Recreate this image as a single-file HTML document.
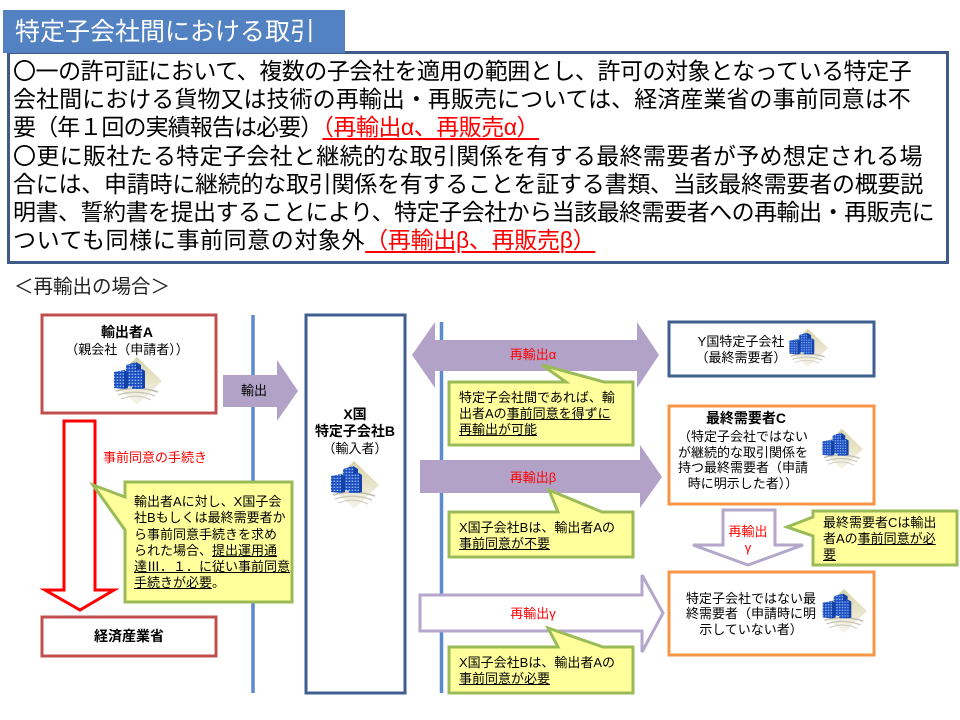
<!DOCTYPE html>
<html><head><meta charset="utf-8">
<style>
html,body{margin:0;padding:0;background:#fff;}
body{width:960px;height:720px;position:relative;overflow:hidden;font-family:"Liberation Sans","Noto Sans CJK JP",sans-serif;}
.a{position:absolute;white-space:nowrap;}
.m{font-size:23px;line-height:28.2px;color:#000;}
.r{color:#f00;text-decoration:underline;text-decoration-thickness:1.5px;text-underline-offset:3px;}
.t{position:absolute;white-space:nowrap;font-size:13px;line-height:16px;color:#000;}
.c{text-align:center;}
.b{font-weight:bold;font-size:14px;}
.u{text-decoration:underline;}
.red{color:#f00;}
</style></head><body>
<svg width="960" height="720" style="position:absolute;left:0;top:0" xmlns="http://www.w3.org/2000/svg">
<defs>
<linearGradient id="dg" x1="0" y1="0" x2="0" y2="1">
<stop offset="0" stop-color="#d8d2a8"/><stop offset="0.6" stop-color="#ece8d2"/><stop offset="1" stop-color="#f6f4ea"/>
</linearGradient>
<pattern id="win" width="3" height="3" patternUnits="userSpaceOnUse">
<rect width="3" height="3" fill="#1c4cc0"/><rect x="0.6" y="0.6" width="1.6" height="1.4" fill="#8ab8f4"/>
</pattern>
<symbol id="bld" viewBox="0 0 52 52">
<polygon points="27,2 52,26 27,50 2,26" fill="url(#dg)"/>
<path d="M6,36 Q27,30 48,37" stroke="#bdbcae" stroke-width="1.6" fill="none"/>
<path d="M8,40 Q27,34 45,41" stroke="#c8c7ba" stroke-width="1.4" fill="none"/>
<path d="M11,44 Q27,38 41,45" stroke="#d0cfc3" stroke-width="1.2" fill="none"/>
<polygon points="16,10 26,7 26,32 16,31" fill="url(#win)"/>
<polygon points="26,7 31,10 31,31 26,32" fill="#1542a8"/>
<polygon points="4,17 14,15 14,34 4,33" fill="url(#win)"/>
<polygon points="14,15 18,17 18,33 14,34" fill="#1542a8"/>
<polygon points="22,16 32,14 32,34 22,34" fill="url(#win)"/>
<polygon points="32,14 35,16 35,33 32,34" fill="#1542a8"/>
</symbol>
</defs>

<!-- Text box -->
<rect x="8.5" y="52.5" width="939" height="210" fill="#fff" stroke="#3f5b8a" stroke-width="3"/>
<rect x="3" y="10" width="342" height="43" fill="#5382c2"/>

<!-- vertical lines -->
<line x1="253" y1="315" x2="253" y2="693" stroke="#5b8bcf" stroke-width="3.5"/>
<line x1="441.5" y1="322" x2="441.5" y2="693" stroke="#5b8bcf" stroke-width="3.5"/>

<!-- boxes -->
<rect x="42" y="315" width="174" height="98" fill="#fff" stroke="#c0504d" stroke-width="3"/>
<rect x="42" y="617" width="174" height="39" fill="#fff" stroke="#c0504d" stroke-width="3"/>
<rect x="306" y="315" width="99" height="378" fill="#fff" stroke="#3f5f8f" stroke-width="3"/>
<rect x="669" y="322" width="205" height="54" fill="#fff" stroke="#3f5f8f" stroke-width="3"/>
<rect x="669" y="406" width="205" height="98" fill="#fff" stroke="#f79646" stroke-width="3"/>
<rect x="669" y="572" width="205" height="83" fill="#fff" stroke="#f79646" stroke-width="3"/>

<!-- export arrow -->
<path d="M223,375 H277 V360 L298,391 L277,421 V407 H223 Z" fill="#b3a2c7"/>

<!-- red down arrow -->
<path d="M64,421 H95 V590 H114 L80,610 L45,590 H64 Z" fill="#fff" stroke="#f00" stroke-width="3"/>

<!-- double arrow alpha -->
<path d="M412,355 L435,322 V340 H637 V322 L659,355 L637,388 V371 H435 V388 Z" fill="#b3a2c7"/>
<!-- arrow beta -->
<path d="M420,460 H640 V445 L662,477 L640,508 V493 H420 Z" fill="#b3a2c7"/>
<!-- arrow gamma hollow -->
<path d="M420,595 H642 V575 L663,613 L642,652 V631 H420 Z" fill="#fff" stroke="#b3a7cb" stroke-width="3"/>
<!-- down arrow gamma -->
<path d="M723,510 H775 V545 H803 L748,565 L693,545 H723 Z" fill="#fff" stroke="#b3a7cb" stroke-width="3"/>

<!-- callouts -->
<path d="M125,482 H292 V602 H125 V530 L93,485 L125,497 Z" fill="#ffff9c" stroke="#9bbb59" stroke-width="3"/>
<path d="M449,382 H566 L542,365 L604,382 H633 V445 H449 Z" fill="#ffff9c" stroke="#9bbb59" stroke-width="3"/>
<path d="M449,512 H558 L549,490 L602,512 H633 V557 H449 Z" fill="#ffff9c" stroke="#9bbb59" stroke-width="3"/>
<path d="M449,647 H558 L548,628 L603,647 H633 V693 H449 Z" fill="#ffff9c" stroke="#9bbb59" stroke-width="3"/>
<path d="M813,511 H957 V565 H813 V536 L787,527 L813,517 Z" fill="#ffff9c" stroke="#9bbb59" stroke-width="3"/>

<!-- icons -->
<use href="#bld" x="110" y="355" width="52" height="52"/>
<use href="#bld" x="327" y="459" width="52" height="52"/>
<use href="#bld" x="786" y="327" width="42" height="42"/>
<use href="#bld" x="819" y="427" width="44" height="44"/>
<use href="#bld" x="819" y="587" width="48" height="48"/>
</svg>

<!-- title -->
<div class="a" style="left:15px;top:15px;font-size:25px;line-height:34px;color:#fff;">特定子会社間における取引</div>

<!-- main text -->
<div class="a m" style="left:13px;top:57px;letter-spacing:-0.45px;">〇一の許可証において、複数の子会社を適用の範囲とし、許可の対象となっている特定子</div>
<div class="a m" style="left:13px;top:85.2px;letter-spacing:0.05px;">会社間における貨物又は技術の再輸出・再販売については、経済産業省の事前同意は不</div>
<div class="a m" style="left:13px;top:113.4px;letter-spacing:-0.9px;">要（年１回の実績報告は必要）<span class="r" style="letter-spacing:-0.5px;">（再輸出α、再販売α）</span></div>
<div class="a m" style="left:13px;top:141.6px;letter-spacing:0.33px;">〇更に販社たる特定子会社と継続的な取引関係を有する最終需要者が予め想定される場</div>
<div class="a m" style="left:13px;top:169.8px;letter-spacing:-0.25px;">合には、申請時に継続的な取引関係を有することを証する書類、当該最終需要者の概要説</div>
<div class="a m" style="left:13px;top:198px;letter-spacing:-0.5px;">明書、誓約書を提出することにより、特定子会社から当該最終需要者への再輸出・再販売に</div>
<div class="a m" style="left:13px;top:226.2px;letter-spacing:0.6px;">ついても同様に事前同意の対象外<span class="r" style="letter-spacing:-0.3px;">（再輸出β、再販売β）</span></div>

<div class="a" style="left:14px;top:276px;font-size:19.5px;line-height:22px;color:#222;">＜再輸出の場合＞</div>

<!-- diagram texts -->
<div class="t c b" style="left:67px;width:120px;top:324px;">輸出者A</div>
<div class="t c" style="left:57px;width:140px;top:342px;">（親会社（申請者））</div>
<div class="t c" style="left:224px;width:60px;top:383px;">輸出</div>
<div class="t red" style="left:103px;top:450px;">事前同意の手続き</div>
<div class="t" style="left:134px;top:494px;line-height:16.3px;">輸出者Aに対し、X国子会<br>社Bもしくは最終需要者か<br>ら事前同意手続きを求め<br>られた場合、<span class="u">提出運用通</span><br><span class="u">達Ⅲ．１．に従い事前同意</span><br><span class="u">手続きが必要</span>。</div>
<div class="t c b" style="left:69px;width:120px;top:628px;">経済産業省</div>

<div class="t c b" style="left:305px;width:100px;top:406px;">X国</div>
<div class="t c b" style="left:305px;width:100px;top:423px;">特定子会社B</div>
<div class="t c" style="left:305px;width:100px;top:441px;">（輸入者）</div>

<div class="t c red" style="left:473px;width:120px;top:347px;">再輸出α</div>
<div class="t" style="left:459px;top:390px;">特定子会社間であれば、輸<br>出者Aの<span class="u">事前同意を得ずに</span><br><span class="u">再輸出が可能</span></div>
<div class="t c red" style="left:473px;width:120px;top:470px;">再輸出β</div>
<div class="t" style="left:459px;top:520px;">X国子会社Bは、輸出者Aの<br><span class="u">事前同意が不要</span></div>
<div class="t c red" style="left:473px;width:120px;top:606px;">再輸出γ</div>
<div class="t" style="left:459px;top:655px;">X国子会社Bは、輸出者Aの<br><span class="u">事前同意が必要</span></div>

<div class="t c" style="left:681px;width:120px;top:334px;">Y国特定子会社<br>（最終需要者）</div>
<div class="t c b" style="left:686px;width:120px;top:410px;">最終需要者C</div>
<div class="t c" style="left:673px;width:140px;top:429px;line-height:15.5px;">（特定子会社ではない<br>が継続的な取引関係を<br>持つ最終需要者（申請<br>時に明示した者））</div>
<div class="t c red" style="left:708px;width:80px;top:524px;">再輸出<br>γ</div>
<div class="t" style="left:823px;top:515px;">最終需要者Cは輸出<br>者Aの<span class="u">事前同意が必</span><br><span class="u">要</span></div>
<div class="t c" style="left:676px;width:150px;top:591px;line-height:15.3px;">特定子会社ではない最<br>終需要者（申請時に明<br>示していない者）</div>
</body></html>
